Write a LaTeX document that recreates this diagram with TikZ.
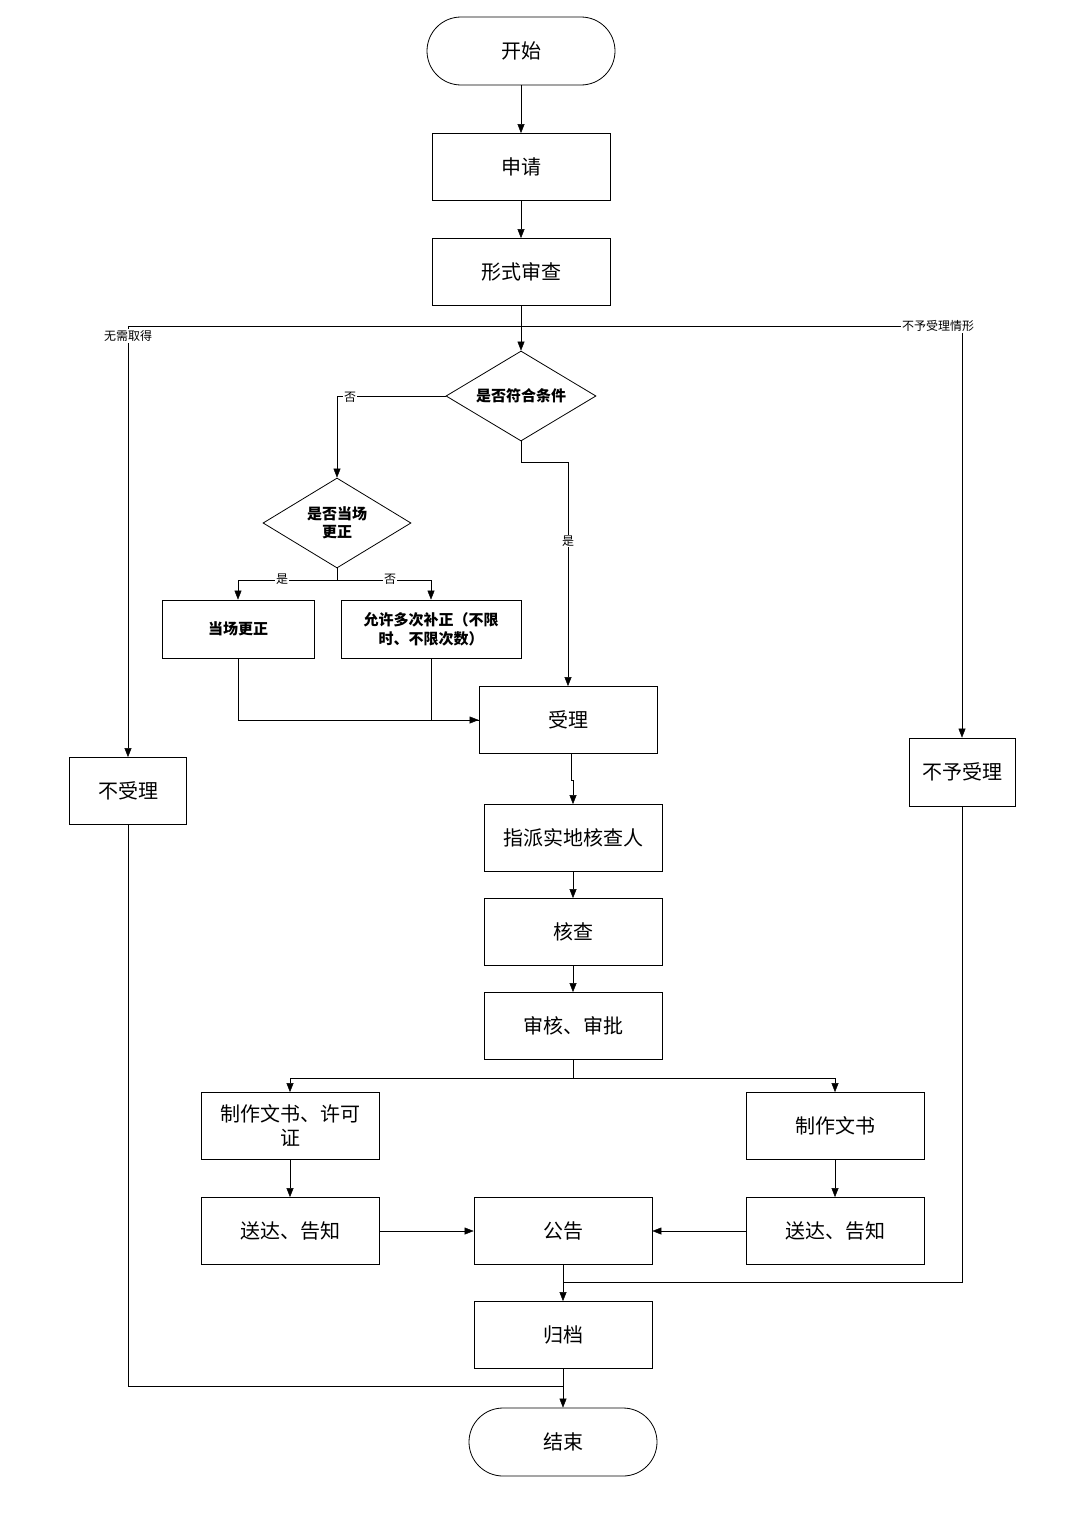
\documentclass[tikz,border=0pt]{standalone}
\usepackage{fontspec}
\setmainfont{Noto Sans CJK SC}
\usetikzlibrary{shapes.geometric,arrows.meta}
\begin{document}
\begin{tikzpicture}[x=1pt,y=-1pt,
  box/.style={draw,thick,minimum width=178pt,minimum height=67pt,font=\fontsize{20}{24}\selectfont,align=center,inner sep=2pt},
  term/.style={draw,thick,rounded corners=34pt,minimum width=188pt,minimum height=68pt,font=\fontsize{20}{24}\selectfont},
  dia/.style={draw,thick,diamond,aspect=1.65,minimum width=150pt,minimum height=90pt,inner sep=0pt,font=\bfseries\fontsize{15}{18}\selectfont,align=center},
  lab/.style={font=\fontsize{12}{14}\selectfont,fill=white,inner sep=1pt},
  ln/.style={thin},
  arr/.style={thin,-{Triangle[length=9pt,width=7pt]}}]
\useasboundingbox (0,0) rectangle (1080,1515);
\node[term] (start) at (521,51) {开始};
\node[box] (apply) at (521,167) {申请};
\node[box] (form) at (521,272) {形式审查};
\node[dia] (d1) at (521,396) {是否符合条件};
\node[dia,minimum width=148pt] (d2) at (337,523) {是否当场\\更正};
\node[box,minimum width=152pt,minimum height=58pt,font=\bfseries\fontsize{15}{18}\selectfont] (fix) at (238,629) {当场更正};
\node[box,minimum width=180pt,minimum height=58pt,font=\bfseries\fontsize{15}{19}\selectfont] (allow) at (431,629) {允许多次补正（不限\\时、不限次数）};
\node[box] (accept) at (568,720) {受理};
\node[box] (assign) at (573,838) {指派实地核查人};
\node[box] (check) at (573,932) {核查};
\node[box] (approve) at (573,1026) {审核、审批};
\node[box,text width=170pt] (makeL) at (290,1126) {制作文书、许可\\证};
\node[box] (makeR) at (835,1126) {制作文书};
\node[box] (sendL) at (290,1231) {送达、告知};
\node[box] (notice) at (563,1231) {公告};
\node[box] (sendR) at (835,1231) {送达、告知};
\node[box] (archive) at (563,1335) {归档};
\node[term] (end) at (563,1442) {结束};
\node[box,minimum width=117pt] (rej) at (128,791) {不受理};
\node[box,minimum width=106pt,minimum height=68pt] (norej) at (962,772) {不予受理};

\draw[arr] (start) -- (apply);
\draw[arr] (apply) -- (form);
\draw[arr] (form) -- (d1);
\coordinate (hl) at (128,326); \coordinate (hr) at (962,326);
\draw[ln] (hl) -- (hr);
\draw[arr] (hl) -- (rej);
\draw[arr] (hr) -- (norej);
\node[lab] at (128,336) {无需取得};
\node[lab] at (938,326) {不予受理情形};
\draw[arr] (d1.west) -| (d2.north);
\node[lab] at (350,397) {否};
\coordinate (s2) at (337,580);
\draw[ln] (d2.south) -- (s2);
\draw[arr] (s2) -| (fix.north);
\draw[arr] (s2) -| (allow.north);
\node[lab] at (282,579) {是};
\node[lab] at (390,579) {否};
\draw[ln] (fix.south) |- (accept.west);
\draw[arr] (allow.south) |- (accept.west);
\draw[arr] (d1.south) -- (521,462) -| (accept.north);
\node[lab] at (568,541) {是};
\draw[arr] (571,754) -- (571,780) -- (573,780) -- (assign.north);
\draw[arr] (assign) -- (check);
\draw[arr] (check) -- (approve);
\coordinate (sp) at (573,1078);
\draw[ln] (approve.south) -- (sp);
\draw[arr] (sp) -| (makeL.north);
\draw[arr] (sp) -| (makeR.north);
\draw[arr] (makeL) -- (sendL);
\draw[arr] (makeR) -- (sendR);
\draw[arr] (sendL) -- (notice);
\draw[arr] (sendR) -- (notice);
\draw[arr] (notice) -- (archive);
\draw[ln] (norej.south) |- (563,1282);
\draw[arr] (archive) -- (end);
\draw[ln] (rej.south) |- (563,1386);
\end{tikzpicture}
\end{document}
